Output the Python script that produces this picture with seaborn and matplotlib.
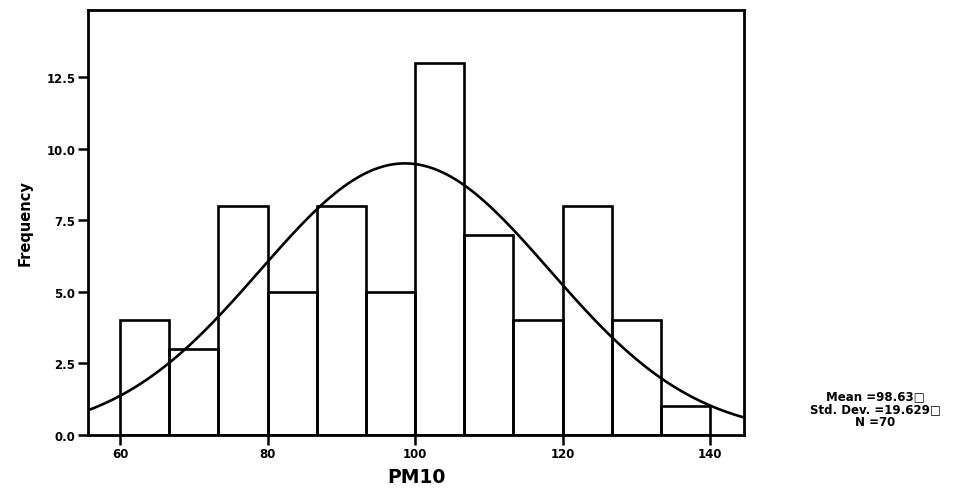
import numpy as np
import pandas as pd
import seaborn as sns
import matplotlib
matplotlib.use("Agg")
import matplotlib.pyplot as plt

# PM10 histogram: 12 bins of width 20/3 from 60 to 140
bin_edges = [60 + i * 20 / 3 for i in range(13)]
bin_counts = [4, 3, 8, 5, 8, 5, 13, 7, 4, 8, 4, 1]
mean_pm10 = 98.63
sd_pm10 = 19.629
n_obs = 70
x_ticks = [60, 80, 100, 120, 140]
y_ticks = [0.0, 2.5, 5.0, 7.5, 10.0, 12.5]

sns.set_theme(style="ticks")
plt.rcParams["font.family"] = ["DejaVu Sans"]
plt.rcParams["font.weight"] = "bold"

fig = plt.figure(figsize=(9.58, 4.89), dpi=100)
ax = fig.add_axes([0.0919, 0.1084, 0.6847, 0.8691])

centers = [(bin_edges[i] + bin_edges[i + 1]) / 2 for i in range(len(bin_counts))]
df = pd.DataFrame({"PM10": centers, "count": bin_counts})
sns.histplot(data=df, x="PM10", weights="count", bins=bin_edges,
             fill=False, color="black", linewidth=1.9, ax=ax)

# normal curve scaled to counts
xlo, xhi = 55.66, 144.6
xs = np.linspace(xlo, xhi, 400)
bw = bin_edges[1] - bin_edges[0]
ys = n_obs * bw / (sd_pm10 * np.sqrt(2 * np.pi)) * np.exp(-0.5 * ((xs - mean_pm10) / sd_pm10) ** 2)
sns.lineplot(x=xs, y=ys, color="black", linewidth=1.9, ax=ax)

ax.set_xlim(xlo, xhi)
ax.set_ylim(0, 14.84)
ax.set_xticks(x_ticks)
ax.set_yticks(y_ticks)
ax.set_yticklabels([f"{v:.1f}" for v in y_ticks])
ax.tick_params(axis="both", direction="out", length=7, width=1.8,
               labelsize=8.5, color="black", labelcolor="black", pad=2)
for lab in ax.get_xticklabels() + ax.get_yticklabels():
    lab.set_fontweight("bold")
for sp in ax.spines.values():
    sp.set_visible(True)
    sp.set_linewidth(2)
    sp.set_color("black")

ax.set_xlabel("PM10", fontsize=13.5, fontweight="bold", color="black")
ax.xaxis.set_label_coords(0.5, -0.076)
ax.set_ylabel("Frequency", fontsize=10.5, fontweight="bold", color="black")
ax.yaxis.set_label_coords(-0.084, 0.5)

fig.text(0.914, 0.162,
         f"Mean ={mean_pm10:.2f}\u25a1\nStd. Dev. ={sd_pm10:.3f}\u25a1\nN ={n_obs}",
         ha="center", va="center", fontsize=8.5, fontweight="bold",
         linespacing=1.0, color="black")

fig.savefig("out.png", dpi=100, facecolor="white")
